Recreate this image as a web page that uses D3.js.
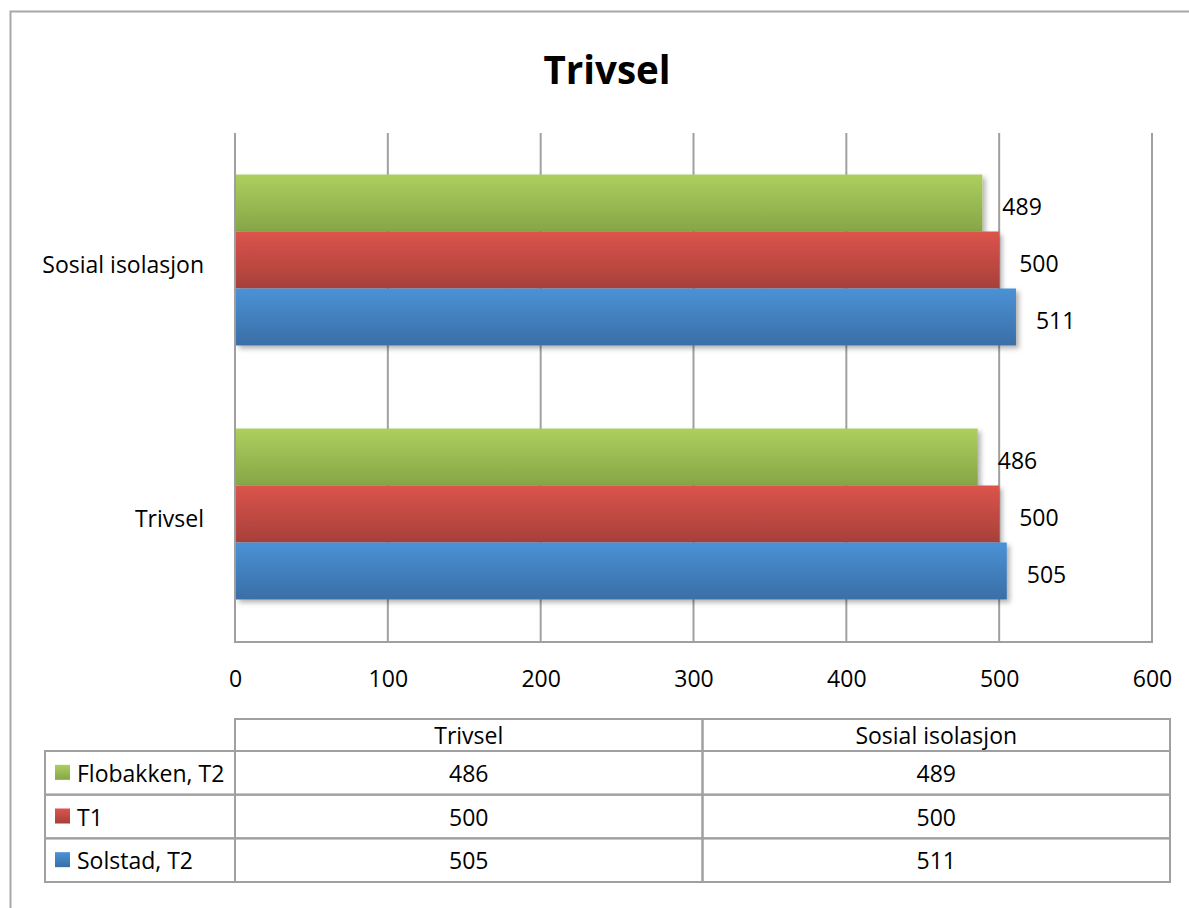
<!DOCTYPE html>
<html>
<head>
<meta charset="utf-8">
<script src="https://cdn.jsdelivr.net/npm/d3@7"></script>
<style>
  html, body { margin: 0; padding: 0; background: #fff; }
  svg { display: block; font-family: "Open Sans", sans-serif; }
</style>
</head>
<body>
<svg id="chart" width="1189" height="908"></svg>
<script>
// ---- data ----
const title = "Trivsel";
const categories = ["Sosial isolasjon", "Trivsel"];   // top to bottom
const tableCategories = ["Trivsel", "Sosial isolasjon"]; // table column order
const seriesNames = ["Flobakken, T2", "T1", "Solstad, T2"]; // top to bottom in each group
const flobakken = { "Trivsel": 486, "Sosial isolasjon": 489 };
const t1 = { "Trivsel": 500, "Sosial isolasjon": 500 };
const solstad = { "Trivsel": 505, "Sosial isolasjon": 511 };
const xTicks = [0, 100, 200, 300, 400, 500, 600];

const seriesValues = [flobakken, t1, solstad];
const seriesColors = [
  { top: "#adcf5e", bottom: "#86a547" },
  { top: "#dc544c", bottom: "#a6403a" },
  { top: "#4a92d6", bottom: "#3a6ea6" }
];

// ---- layout ----
const svg = d3.select("#chart");
const plot = { left: 235, right: 1152, top: 133, bottom: 641 };
const gray = "#a0a0a0";
const fs = 23;

const defs = svg.append("defs");
seriesColors.forEach((c, i) => {
  const g = defs.append("linearGradient").attr("id", "grad" + i)
    .attr("x1", 0).attr("y1", 0).attr("x2", 0).attr("y2", 1);
  g.append("stop").attr("offset", "0%").attr("stop-color", c.top);
  g.append("stop").attr("offset", "100%").attr("stop-color", c.bottom);
});
const f = defs.append("filter").attr("id", "shadow")
  .attr("x", "-5%").attr("y", "-20%").attr("width", "120%").attr("height", "160%");
f.append("feDropShadow").attr("dx", 3).attr("dy", 3).attr("stdDeviation", 2.5)
  .attr("flood-color", "#000").attr("flood-opacity", 0.3);

// outer border (extends past right and bottom edges)
svg.append("rect").attr("x", 10.5).attr("y", 11.5).attr("width", 1300).attr("height", 1000)
  .attr("fill", "none").attr("stroke", "#a8a8a8").attr("stroke-width", 2);

// title
svg.append("text").attr("x", 607).attr("y", 84).attr("text-anchor", "middle")
  .attr("font-size", 38.5).attr("font-weight", "bold").attr("fill", "#000").text(title);

// scales
const x = d3.scaleLinear().domain([0, 600]).range([plot.left, plot.right]);
const y = d3.scaleBand().domain(categories).range([plot.top, plot.bottom])
  .paddingInner(0.327).paddingOuter(0.1635);
const ySub = d3.scaleBand().domain(seriesNames).range([0, y.bandwidth()]);

// gridlines
svg.append("g").selectAll("line").data(xTicks).join("line")
  .attr("x1", d => x(d)).attr("x2", d => x(d))
  .attr("y1", plot.top).attr("y2", plot.bottom)
  .attr("stroke", gray).attr("stroke-width", 2);
// bottom axis line
svg.append("line").attr("x1", plot.left - 1).attr("x2", plot.right + 1)
  .attr("y1", plot.bottom + 1).attr("y2", plot.bottom + 1)
  .attr("stroke", gray).attr("stroke-width", 2);

// x axis labels
const xAxis = svg.append("g").attr("transform", `translate(0,${plot.bottom})`)
  .call(d3.axisBottom(x).tickValues(xTicks).tickSize(0).tickPadding(30).tickFormat(d3.format("d")));
xAxis.select(".domain").remove();
xAxis.selectAll("text").attr("font-size", fs).attr("fill", "#000")
  .attr("font-family", "'Open Sans', sans-serif");

// y axis labels
const yAxis = svg.append("g").attr("transform", `translate(${plot.left},0)`)
  .call(d3.axisLeft(y).tickSize(0).tickPadding(31));
yAxis.select(".domain").remove();
yAxis.selectAll("text").attr("font-size", fs).attr("fill", "#000")
  .attr("font-family", "'Open Sans', sans-serif").attr("dy", "0.55em");

// bars
const barRows = [];
categories.forEach(cat => {
  seriesNames.forEach((s, i) => {
    barRows.push({ cat, s, i, v: seriesValues[i][cat] });
  });
});
svg.append("g").selectAll("rect").data(barRows).join("rect")
  .attr("x", x(0) + 1)
  .attr("y", d => y(d.cat) + ySub(d.s))
  .attr("width", d => x(d.v) - x(0) - 1)
  .attr("height", ySub.bandwidth())
  .attr("fill", d => `url(#grad${d.i})`)
  .attr("filter", "url(#shadow)");

// data labels
svg.append("g").selectAll("text").data(barRows).join("text")
  .attr("x", d => x(d.v) + 20)
  .attr("y", d => y(d.cat) + ySub(d.s) + ySub.bandwidth() / 2)
  .attr("dy", "0.52em")
  .attr("font-size", fs).attr("fill", "#000")
  .text(d => d.v);

// ---- data table ----
const tbl = { legendLeft: 45, colLeft: 235, right: 1170, headTop: 719, bodyTop: 751, bottom: 882 };
const colX = d3.scaleBand().domain(tableCategories).range([tbl.colLeft, tbl.right]);
const rowY = d3.scaleBand().domain(seriesNames).range([tbl.bodyTop, tbl.bottom]);
const tg = svg.append("g");
const stroke = (sel) => sel.attr("stroke", gray).attr("stroke-width", 2).attr("fill", "none");

// header cells
tableCategories.forEach(c => {
  tg.append("rect").attr("x", colX(c)).attr("y", tbl.headTop)
    .attr("width", colX.bandwidth()).attr("height", tbl.bodyTop - tbl.headTop).call(stroke);
  tg.append("text").attr("x", colX(c) + colX.bandwidth() / 2)
    .attr("y", (tbl.headTop + tbl.bodyTop) / 2).attr("dy", "0.38em")
    .attr("text-anchor", "middle").attr("font-size", fs).attr("fill", "#000").text(c);
});
// body rows
seriesNames.forEach((s, i) => {
  const ry = rowY(s), rh = rowY.bandwidth();
  tg.append("rect").attr("x", tbl.legendLeft).attr("y", ry)
    .attr("width", tbl.colLeft - tbl.legendLeft).attr("height", rh).call(stroke);
  tg.append("rect").attr("x", 55).attr("y", ry + rh / 2 - 8).attr("width", 15).attr("height", 15)
    .attr("fill", `url(#grad${i})`);
  tg.append("text").attr("x", 77).attr("y", ry + rh / 2).attr("dy", "0.4em")
    .attr("font-size", fs).attr("fill", "#000").text(s);
  tableCategories.forEach(c => {
    tg.append("rect").attr("x", colX(c)).attr("y", ry)
      .attr("width", colX.bandwidth()).attr("height", rh).call(stroke);
    tg.append("text").attr("x", colX(c) + colX.bandwidth() / 2).attr("y", ry + rh / 2)
      .attr("dy", "0.4em").attr("text-anchor", "middle")
      .attr("font-size", fs).attr("fill", "#000").text(seriesValues[i][c]);
  });
});
</script>
</body>
</html>
